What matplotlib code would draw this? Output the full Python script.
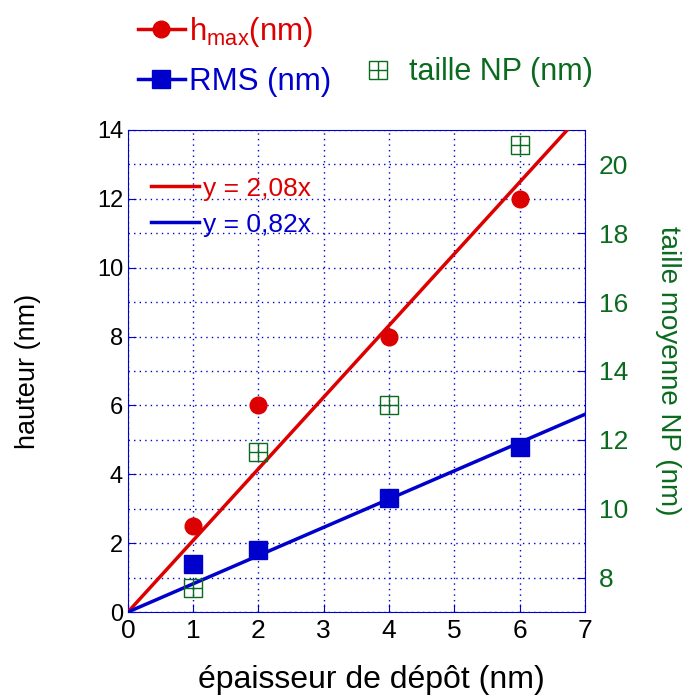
import numpy as np
import matplotlib
matplotlib.use('Agg')
import matplotlib.pyplot as plt
from matplotlib.lines import Line2D
from matplotlib.ticker import MultipleLocator

plt.rcParams['font.family'] = ['Liberation Sans', 'DejaVu Sans']
plt.rcParams['mathtext.fontset'] = 'custom'
plt.rcParams['mathtext.rm'] = 'Liberation Sans'
plt.rcParams['mathtext.it'] = 'Liberation Sans'

# data
epaisseur = [1, 2, 4, 6]
h_max = [2.5, 6.0, 8.0, 12.0]
rms = [1.4, 1.8, 3.3, 4.8]
taille_np = [7.7, 11.65, 13.0, 20.55]

pente_h = 2.08
pente_rms = 0.82
x_fit = np.array([0, 7])

RED = '#dd0000'
BLUE = '#0000cc'
GREEN = '#0a6b1e'

fig = plt.figure(figsize=(6.84, 6.95), dpi=100)
ax = fig.add_axes([0.187, 0.1194, 0.668, 0.6936])

ax.plot(x_fit, pente_h * x_fit, color=RED, lw=2.5, label='y = 2,08x', zorder=3)
ax.plot(x_fit, pente_rms * x_fit, color=BLUE, lw=2.5, label='y = 0,82x', zorder=3)
ax.plot(epaisseur, h_max, 'o', color=RED, ms=12, zorder=4)
ax.plot(epaisseur, rms, 's', color=BLUE, ms=13, zorder=4)

ax.set_xlim(0, 7)
ax.set_ylim(0, 14)
ax.xaxis.set_major_locator(MultipleLocator(1))
ax.yaxis.set_major_locator(MultipleLocator(2))
ax.yaxis.set_minor_locator(MultipleLocator(1))
ax.grid(True, which='both', color=BLUE, linestyle=(0, (1, 3)), lw=1)
ax.set_axisbelow(True)
for s in ax.spines.values():
    s.set_color(BLUE)
ax.tick_params(axis='both', which='major', direction='in', colors=BLUE,
               labelcolor='black', labelsize=17, length=6, top=False, right=False)
ax.tick_params(axis='x', labelsize=19, pad=5)
ax.tick_params(axis='y', which='minor', length=0)
ax.set_xlabel('épaisseur de dépôt (nm)', fontsize=23, labelpad=16)
ax.xaxis.label.set_x(0.533)
ax.set_ylabel('hauteur (nm)', fontsize=19.5, labelpad=40)

ax2 = ax.twinx()
ax2.plot(epaisseur, taille_np, 's', ms=13, mfc='none', mec=GREEN, mew=1, zorder=4)
ax2.plot(epaisseur, taille_np, '+', ms=13, color=GREEN, mew=1, zorder=4)
ax2.set_ylim(7, 21)
ax2.yaxis.set_major_locator(MultipleLocator(2))
for s in ax2.spines.values():
    s.set_visible(False)
ax2.tick_params(axis='y', direction='in', colors=BLUE, labelcolor=GREEN,
                labelsize=19, length=6, pad=10)
ax2.set_ylabel('taille moyenne NP (nm)', fontsize=20, color=GREEN,
               rotation=270, labelpad=38)

# inner legend for the fits
leg = ax.legend(loc='upper left', bbox_to_anchor=(0.028, 0.925), frameon=False,
                fontsize=19, handlelength=1.8, handletextpad=0.15,
                labelspacing=0.45, borderaxespad=0)
for t, c in zip(leg.get_texts(), [RED, BLUE]):
    t.set_color(c)

# top legends
h1 = Line2D([], [], color=RED, lw=2.5, marker='o', ms=12)
h2 = Line2D([], [], color=BLUE, lw=2.5, marker='s', ms=13)
leg1 = fig.legend([h1, h2], [r'h$_{\rm max}$(nm)', 'RMS (nm)'],
                  loc='upper left', bbox_to_anchor=(0.183, 0.997), frameon=False,
                  fontsize=22.5, handlelength=1.5, handletextpad=0.15,
                  labelspacing=0.6, borderaxespad=0)
for t, c in zip(leg1.get_texts(), [RED, BLUE]):
    t.set_color(c)

g1 = Line2D([], [], ls='none', marker='s', ms=13, mfc='none', mec=GREEN, mew=1)
g2 = Line2D([], [], ls='none', marker='+', ms=13, color=GREEN, mew=1)
leg2 = fig.legend([(g1, g2)], ['taille NP (nm)'], loc='upper left',
                  bbox_to_anchor=(0.513, 0.935), frameon=False, fontsize=22,
                  handlelength=1.0, handletextpad=0.5, borderaxespad=0)
leg2.get_texts()[0].set_color(GREEN)

fig.savefig('out.png', dpi=100)
